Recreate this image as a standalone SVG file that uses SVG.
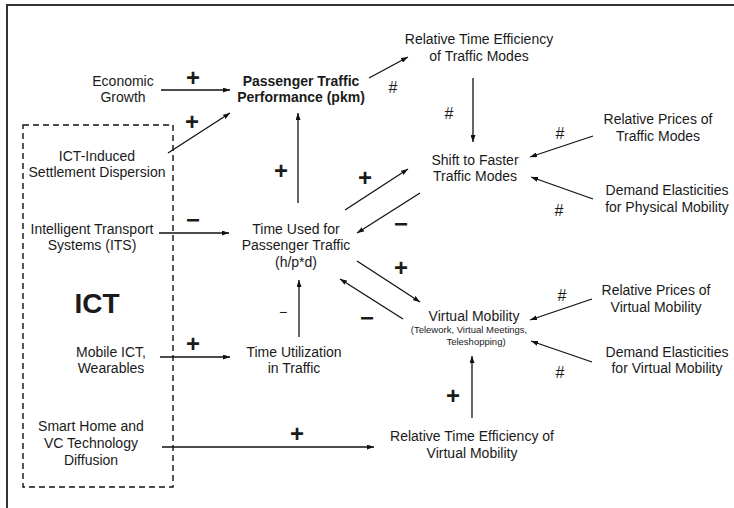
<svg xmlns="http://www.w3.org/2000/svg" width="734" height="508" viewBox="0 0 734 508">
<defs>
<marker id="ah" markerUnits="userSpaceOnUse" markerWidth="7" markerHeight="5" refX="7" refY="2.5" orient="auto">
<path d="M0,0 L7,2.5 L0,5 z" fill="#111"/>
</marker>
<style>
text{font-family:"Liberation Sans",Arial,sans-serif;fill:#1a1a1a}
.t{font-size:14px;text-anchor:middle}
.b{font-weight:bold}
.s{font-size:9.5px;text-anchor:middle}
.sg{font-size:24px;font-weight:bold;text-anchor:middle}
.sm{font-size:14px;text-anchor:middle}
.h{font-size:16px;text-anchor:middle}
.c line{stroke:#111;stroke-width:1.3;marker-end:url(#ah)}
</style>
</defs>
<rect width="734" height="508" fill="#fff"/>
<g id="frame" stroke="#333" stroke-width="2" fill="none">
<path d="M7,508 L7,5 L734,5"/>
</g>
<g id="ict-box">
<rect x="23" y="125" width="150" height="362" fill="none" stroke="#111" stroke-width="1.4" stroke-dasharray="6 4"/>
<text x="97" y="313" style="font-size:28px;font-weight:bold;text-anchor:middle">ICT</text>
</g>
<g id="economic-growth"><text class="t" x="123" y="86">Economic</text><text class="t" x="123" y="102">Growth</text></g>
<g id="passenger-traffic"><text class="t b" x="301" y="86">Passenger Traffic</text><text class="t b" x="301" y="102">Performance (pkm)</text></g>
<g id="settlement-dispersion"><text class="t" x="97" y="161">ICT-Induced</text><text class="t" x="97" y="177">Settlement Dispersion</text></g>
<g id="rte-traffic"><text class="t" x="479" y="44">Relative Time Efficiency</text><text class="t" x="479" y="61">of Traffic Modes</text></g>
<g id="prices-traffic"><text class="t" x="658" y="124">Relative Prices of</text><text class="t" x="658" y="141">Traffic Modes</text></g>
<g id="shift"><text class="t" x="475" y="165">Shift to Faster</text><text class="t" x="475" y="181">Traffic Modes</text></g>
<g id="elasticities-physical"><text class="t" x="667" y="195">Demand Elasticities</text><text class="t" x="667" y="212">for Physical Mobility</text></g>
<g id="its"><text class="t" x="92" y="234">Intelligent Transport</text><text class="t" x="92" y="250">Systems (ITS)</text></g>
<g id="time-used"><text class="t" x="296" y="234">Time Used for</text><text class="t" x="296" y="250">Passenger Traffic</text><text class="t" x="296" y="267">(h/p*d)</text></g>
<g id="mobile-ict"><text class="t" x="111" y="357">Mobile ICT,</text><text class="t" x="111" y="373">Wearables</text></g>
<g id="time-utilization"><text class="t" x="294" y="357">Time Utilization</text><text class="t" x="294" y="373">in Traffic</text></g>
<g id="virtual-mobility"><text class="t" x="474" y="321">Virtual Mobility</text><text class="s" x="469" y="333">(Telework, Virtual Meetings,</text><text class="s" x="476" y="345">Teleshopping)</text></g>
<g id="prices-virtual"><text class="t" x="656" y="295">Relative Prices of</text><text class="t" x="656" y="312">Virtual Mobility</text></g>
<g id="elasticities-virtual"><text class="t" x="667" y="357">Demand Elasticities</text><text class="t" x="667" y="373">for Virtual Mobility</text></g>
<g id="smart-home"><text class="t" x="91" y="431">Smart Home and</text><text class="t" x="91" y="448">VC Technology</text><text class="t" x="91" y="465">Diffusion</text></g>
<g id="rte-virtual"><text class="t" x="472" y="441">Relative Time Efficiency of</text><text class="t" x="472" y="458">Virtual Mobility</text></g>
<g id="connectors" class="c">
<line x1="161" y1="90" x2="230" y2="90"/>
<line x1="168" y1="153" x2="230" y2="113"/>
<line x1="298" y1="203" x2="298" y2="113"/>
<line x1="369" y1="78" x2="408" y2="57"/>
<line x1="473" y1="78" x2="473" y2="142"/>
<line x1="593" y1="136" x2="530" y2="157"/>
<line x1="593" y1="199" x2="531" y2="177"/>
<line x1="345" y1="210" x2="408" y2="169"/>
<line x1="420" y1="193" x2="357" y2="233"/>
<line x1="159" y1="233" x2="229" y2="233"/>
<line x1="357" y1="261" x2="420" y2="302"/>
<line x1="403" y1="319" x2="340" y2="279"/>
<line x1="299" y1="337" x2="299" y2="280"/>
<line x1="160" y1="357" x2="230" y2="357"/>
<line x1="592" y1="299" x2="530" y2="320"/>
<line x1="592" y1="362" x2="531" y2="341"/>
<line x1="472" y1="418" x2="472" y2="356"/>
<line x1="162" y1="447" x2="374" y2="447"/>
</g>
<g id="polarities">
<text class="sg" x="193" y="85.5">+</text>
<text class="sg" x="192" y="129.5">+</text>
<text class="sg" x="281" y="178.5">+</text>
<text class="sg" x="365" y="185.5">+</text>
<text class="sg" x="401" y="231.5">−</text>
<text class="sg" x="193" y="227.5">−</text>
<text class="sg" x="401" y="275.5">+</text>
<text class="sg" x="367" y="325.5">−</text>
<text class="sg" x="193" y="351.5">+</text>
<text class="sg" x="453" y="403.5">+</text>
<text class="sg" x="297" y="441.5">+</text>
<text class="sm" x="283" y="317">−</text>
<text class="h" x="393" y="92.7">#</text>
<text class="h" x="449" y="118.7">#</text>
<text class="h" x="560" y="138.7">#</text>
<text class="h" x="559" y="215.7">#</text>
<text class="h" x="562" y="300.7">#</text>
<text class="h" x="560" y="377.7">#</text>
</g>
</svg>
